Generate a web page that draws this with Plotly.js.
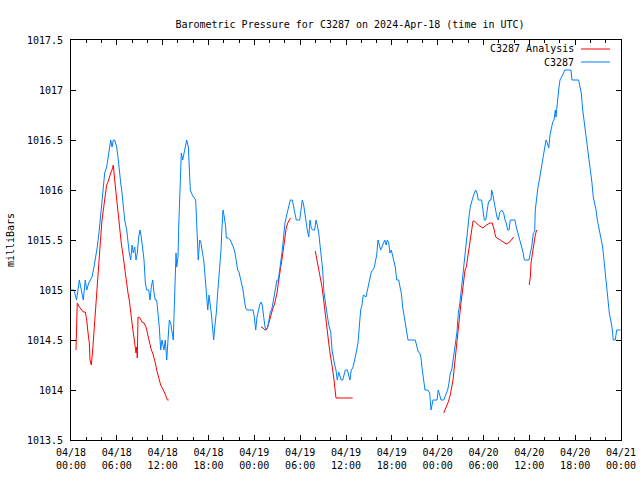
<!DOCTYPE html>
<html>
<head>
<meta charset="utf-8">
<script src="https://cdn.plot.ly/plotly-3.0.1.min.js"></script>
<style>html,body{margin:0;padding:0;background:#fff;}#chart{width:640px;height:480px;}</style>
</head>
<body>
<div id="chart"></div>
<script>
// Start of the time axis (UTC)
const startTime = '2024-04-18 00:00';
const endTime = '2024-04-21 00:00';

// C3287 observed pressure: hours since start, millibars
const stationHours = [0,0.39,0.72,1.09,1.27,1.61,1.87,2.06,2.32,2.49,2.75,3.01,3.27,3.44,3.70,3.89,4.06,4.23,4.41,4.67,4.84,5.01,5.20,5.37,5.54,5.72,5.98,6.15,6.32,6.51,6.68,6.85,7.03,7.29,7.46,7.63,7.82,7.99,8.16,8.34,8.51,8.68,8.86,9.03,9.20,9.39,9.56,9.73,9.91,10.17,10.34,10.51,10.70,10.87,11.04,11.22,11.39,11.56,11.74,11.91,12.17,12.34,12.53,12.70,12.87,13.05,13.22,13.39,13.48,13.65,13.75,13.84,14.01,14.10,14.27,14.44,14.62,14.79,14.96,15.15,15.36,15.45,15.54,15.62,15.88,16.14,16.32,16.49,16.59,16.66,16.85,17.02,17.19,17.37,17.54,17.71,17.80,17.90,18.07,18.24,18.42,18.59,18.68,18.85,19.02,19.20,19.37,19.47,19.64,19.73,19.90,20.07,20.25,20.33,20.59,20.85,21.04,21.30,21.47,21.64,21.82,21.99,22.16,22.35,22.52,22.69,22.87,23.04,23.83,24.00,24.18,24.35,24.52,24.70,24.87,25.04,25.23,25.40,25.57,25.75,25.92,26.09,26.27,26.44,26.61,26.80,26.97,27.14,27.32,27.49,27.66,27.84,28.01,28.18,28.37,28.54,28.71,28.97,29.15,29.32,29.49,29.94,30.11,30.28,30.46,30.59,30.76,30.93,31.12,31.29,31.46,31.64,31.90,32.07,32.24,32.43,32.60,32.77,32.95,33.12,33.29,33.47,33.64,33.81,34.00,34.17,34.34,34.52,34.69,34.86,35.04,35.21,35.38,35.57,35.74,35.91,36.17,36.35,36.52,36.69,36.88,37.05,37.22,37.40,37.57,37.74,37.92,38.09,38.26,38.62,38.79,38.97,39.14,39.31,39.50,39.67,39.84,40.02,40.19,40.36,40.54,40.71,40.88,41.07,41.24,41.41,41.59,41.76,41.93,42.11,42.28,42.45,42.64,42.90,43.07,43.24,43.42,43.59,43.76,43.95,44.12,45.07,45.29,45.46,45.65,45.82,45.99,46.17,46.34,46.70,46.96,47.13,47.22,47.39,47.91,48.08,48.27,48.44,48.79,48.96,49.13,49.31,49.48,49.65,49.84,50.01,50.18,50.36,50.53,50.70,50.88,51.05,51.22,51.41,51.58,51.75,51.93,52.10,52.27,52.46,52.63,52.80,52.98,53.15,53.32,53.76,53.93,54.10,54.29,54.46,54.63,54.81,54.98,55.07,55.24,55.41,55.59,55.76,55.94,56.12,56.38,56.64,56.81,56.98,57.17,57.34,57.51,58.12,58.29,58.48,58.65,58.82,59.00,59.17,59.34,59.96,60.13,60.31,60.52,60.70,60.78,60.87,60.96,61.13,61.31,61.49,61.66,61.83,62.01,62.18,62.35,62.54,62.71,62.88,63.06,63.23,63.40,63.49,63.66,63.84,64.01,64.18,64.37,64.63,65.45,65.58,66.46,66.63,66.80,66.99,67.16,67.33,67.51,67.68,67.85,68.03,68.20,68.37,68.56,68.73,68.90,69.08,69.25,69.42,69.60,69.77,69.94,70.13,70.30,70.47,70.65,70.82,70.99,71.25,71.43,71.93];
const stationPressure = [1015.0,1015.0,1014.9,1015.1,1015.03,1014.9,1015.1,1015.0,1015.07,1015.1,1015.13,1015.23,1015.33,1015.43,1015.6,1015.77,1015.9,1016.07,1016.17,1016.23,1016.33,1016.38,1016.5,1016.43,1016.5,1016.5,1016.43,1016.33,1016.17,1016.07,1015.97,1015.83,1015.7,1015.6,1015.47,1015.37,1015.3,1015.45,1015.37,1015.43,1015.3,1015.37,1015.53,1015.6,1015.53,1015.43,1015.3,1015.07,1015.0,1015.0,1014.9,1015.03,1015.1,1014.97,1014.9,1014.9,1014.77,1014.63,1014.4,1014.5,1014.4,1014.5,1014.3,1014.53,1014.7,1014.67,1014.57,1014.5,1014.73,1015.17,1015.37,1015.23,1015.33,1015.63,1015.93,1016.37,1016.3,1016.37,1016.43,1016.5,1016.43,1016.32,1016.12,1016.0,1015.95,1015.92,1015.9,1015.6,1015.43,1015.3,1015.5,1015.47,1015.38,1015.3,1015.15,1015.02,1014.88,1014.8,1014.95,1014.85,1014.73,1014.57,1014.5,1014.65,1014.77,1014.97,1015.13,1015.23,1015.4,1015.57,1015.8,1015.73,1015.63,1015.52,1015.52,1015.5,1015.47,1015.42,1015.37,1015.27,1015.2,1015.18,1015.13,1015.07,1015.0,1014.9,1014.82,1014.8,1014.8,1014.73,1014.6,1014.73,1014.8,1014.85,1014.88,1014.85,1014.73,1014.63,1014.6,1014.63,1014.7,1014.78,1014.8,1014.87,1014.97,1015.03,1015.1,1015.1,1015.23,1015.3,1015.4,1015.57,1015.67,1015.73,1015.8,1015.83,1015.9,1015.9,1015.83,1015.77,1015.7,1015.7,1015.8,1015.9,1015.85,1015.77,1015.67,1015.6,1015.53,1015.7,1015.62,1015.6,1015.6,1015.7,1015.65,1015.57,1015.45,1015.35,1015.2,1014.97,1014.87,1014.77,1014.7,1014.63,1014.58,1014.4,1014.3,1014.25,1014.2,1014.1,1014.18,1014.13,1014.1,1014.1,1014.15,1014.2,1014.2,1014.15,1014.1,1014.2,1014.22,1014.27,1014.32,1014.4,1014.47,1014.65,1014.8,1014.85,1014.95,1014.93,1015.0,1015.07,1015.13,1015.18,1015.2,1015.22,1015.28,1015.35,1015.5,1015.45,1015.4,1015.43,1015.47,1015.5,1015.45,1015.5,1015.47,1015.37,1015.4,1015.33,1015.3,1015.23,1015.1,1015.1,1015.03,1014.97,1014.83,1014.75,1014.67,1014.58,1014.5,1014.5,1014.43,1014.38,1014.37,1014.32,1014.2,1014.07,1014.0,1014.0,1013.97,1013.8,1013.85,1013.9,1013.9,1014.0,1013.95,1013.9,1013.9,1013.93,1013.97,1014.0,1014.07,1014.17,1014.2,1014.3,1014.43,1014.5,1014.58,1014.77,1014.85,1014.97,1015.1,1015.23,1015.33,1015.48,1015.6,1015.73,1015.83,1015.9,1015.93,1015.97,1016.0,1015.97,1015.9,1015.9,1015.8,1015.7,1015.7,1015.8,1015.87,1015.9,1015.9,1016.0,1015.95,1015.87,1015.8,1015.73,1015.7,1015.77,1015.8,1015.77,1015.7,1015.67,1015.6,1015.6,1015.7,1015.7,1015.63,1015.58,1015.53,1015.48,1015.43,1015.38,1015.3,1015.3,1015.37,1015.43,1015.57,1015.58,1015.8,1015.87,1015.97,1016.03,1016.1,1016.18,1016.27,1016.37,1016.43,1016.5,1016.47,1016.42,1016.55,1016.63,1016.68,1016.7,1016.8,1016.73,1016.9,1017.0,1017.1,1017.12,1017.15,1017.2,1017.2,1017.1,1017.1,1017.03,1016.97,1016.8,1016.7,1016.6,1016.5,1016.4,1016.3,1016.2,1016.07,1015.93,1015.87,1015.8,1015.7,1015.63,1015.57,1015.5,1015.43,1015.3,1015.17,1015.03,1014.93,1014.77,1014.7,1014.63,1014.5,1014.5,1014.6,1014.6];

// C3287 Analysis: hours since start, millibars (null = gap)
const analysisHours = [0.65,0.75,0.82,1.09,1.35,1.61,1.87,2.06,2.23,2.40,2.49,2.66,2.84,3.01,3.18,3.36,3.53,3.70,3.89,4.06,4.23,4.41,4.49,4.67,4.84,5.01,5.20,5.37,5.54,5.72,5.89,6.06,6.24,6.41,6.58,6.77,6.94,7.11,7.29,7.46,7.63,7.82,7.99,8.16,8.34,8.51,8.60,8.68,8.77,9.03,9.29,9.56,9.82,9.99,10.17,10.34,10.51,10.70,10.87,11.04,11.22,11.39,11.56,11.74,11.91,12.08,12.27,12.44,12.61,12.79,
  18.5,
  24.87,25.13,25.40,25.57,25.75,25.92,26.09,26.27,26.44,26.61,26.80,26.97,27.14,27.32,27.49,27.66,27.84,28.01,28.18,28.37,28.54,28.73,
  30.3,
  31.98,32.16,32.33,32.50,32.69,32.86,33.03,33.21,33.38,33.55,33.74,33.91,34.08,34.26,34.43,34.60,34.69,36.88,
  42.0,
  48.79,49.13,49.39,49.65,49.84,50.01,50.18,50.36,50.53,50.70,50.88,51.05,51.22,51.41,51.58,51.75,51.93,52.10,52.27,52.46,52.63,52.80,53.32,53.93,54.36,54.89,55.15,55.41,55.59,56.20,56.98,57.43,57.95,
  59.0,
  59.99,60.13,60.22,60.39,60.57,60.78,60.96];
const analysisPressure = [1014.4,1014.63,1014.87,1014.83,1014.8,1014.78,1014.78,1014.7,1014.57,1014.47,1014.3,1014.25,1014.4,1014.6,1014.73,1014.93,1015.13,1015.33,1015.53,1015.7,1015.8,1015.87,1015.9,1016.05,1016.08,1016.13,1016.17,1016.2,1016.25,1016.1,1015.97,1015.83,1015.73,1015.6,1015.47,1015.37,1015.27,1015.17,1015.03,1014.97,1014.9,1014.8,1014.67,1014.57,1014.47,1014.37,1014.43,1014.32,1014.73,1014.72,1014.68,1014.67,1014.63,1014.57,1014.5,1014.43,1014.4,1014.37,1014.33,1014.27,1014.2,1014.13,1014.1,1014.05,1014.03,1014.0,1013.97,1013.93,1013.9,1013.9,
  null,
  1014.63,1014.62,1014.6,1014.6,1014.63,1014.68,1014.73,1014.78,1014.82,1014.85,1014.9,1014.97,1015.07,1015.15,1015.23,1015.33,1015.43,1015.53,1015.62,1015.67,1015.7,1015.72,
  null,
  1015.39,1015.32,1015.23,1015.17,1015.1,1015.03,1014.93,1014.8,1014.7,1014.57,1014.47,1014.37,1014.3,1014.2,1014.1,1014.0,1013.92,1013.92,
  null,
  1013.77,1013.83,1013.88,1013.95,1014.03,1014.1,1014.23,1014.37,1014.53,1014.63,1014.77,1014.87,1014.97,1015.1,1015.2,1015.23,1015.33,1015.43,1015.5,1015.6,1015.69,1015.69,1015.65,1015.62,1015.65,1015.67,1015.67,1015.6,1015.53,1015.5,1015.46,1015.48,1015.53,
  null,
  1015.05,1015.13,1015.27,1015.37,1015.43,1015.55,1015.6];

const seriesNames = ['C3287 Analysis', 'C3287'];
const seriesColors = ['#ff0000', '#0080ff'];

const baseMs = Date.UTC(2024, 3, 18, 0, 0, 0);
function toDate(h) {
  return new Date(baseMs + h * 3600e3).toISOString().slice(0, 19).replace('T', ' ');
}

const traces = [
  {x: analysisHours.map(toDate), y: analysisPressure, name: seriesNames[0], type: 'scatter', mode: 'lines',
   connectgaps: false, line: {color: seriesColors[0], width: 1}},
  {x: stationHours.map(toDate), y: stationPressure, name: seriesNames[1], type: 'scatter', mode: 'lines',
   line: {color: seriesColors[1], width: 1}}
];

const FONT = 'DejaVu Sans Mono, Liberation Mono, monospace';
const FS = 10;

// legend drawn gnuplot-style: right-aligned text followed by a line sample
const legendAnn = seriesNames.map((n, i) => ({
  text: n, xref: 'paper', yref: 'paper', x: (576 - 71) / 550, y: (440 - (49 + 13 * i)) / 400,
  xanchor: 'right', yanchor: 'middle', showarrow: false, font: {family: FONT, size: FS, color: '#000'}
}));
const legendShapes = seriesColors.map((c, i) => ({
  type: 'line', xref: 'paper', yref: 'paper',
  x0: (581 - 71) / 550, x1: (610 - 71) / 550,
  y0: (440 - (49 + 13 * i)) / 400, y1: (440 - (49 + 13 * i)) / 400,
  line: {color: c, width: 1}
}));

const layout = {
  width: 640, height: 480,
  margin: {l: 71, r: 19, t: 40, b: 40, pad: 0},
  paper_bgcolor: '#ffffff', plot_bgcolor: '#ffffff',
  font: {family: FONT, size: FS, color: '#000'},
  showlegend: false,
  title: {text: 'Barometric Pressure for C3287 on 2024-Apr-18 (time in UTC)',
    x: (350 - 71) / 550, xanchor: 'center', xref: 'paper', y: 1 - 24 / 480, yanchor: 'middle',
    font: {family: FONT, size: FS, color: '#000'}},
  xaxis: {
    type: 'date', range: [startTime, endTime], tick0: startTime, dtick: 6 * 3600e3,
    tickformat: '%m/%d<br>%H:%M', ticks: 'inside', ticklen: 5, tickcolor: '#000', tickwidth: 1,
    showline: true, linecolor: '#000', linewidth: 1, mirror: 'allticks',
    showgrid: false, zeroline: false, ticklabelstandoff: 3,
    minor: {dtick: 2 * 3600e3, tick0: startTime, ticks: 'inside', ticklen: 3, tickcolor: '#000', showgrid: false},
    tickfont: {family: FONT, size: FS, color: '#000'}
  },
  yaxis: {
    range: [1013.5, 1017.5], tick0: 1013.5, dtick: 0.5, tickformat: '~g',
    ticks: 'inside', ticklen: 5, tickcolor: '#000', tickwidth: 1,
    showline: true, linecolor: '#000', linewidth: 1, mirror: 'allticks',
    showgrid: false, zeroline: false, ticklabelstandoff: 5,
    tickfont: {family: FONT, size: FS, color: '#000'},
    title: {text: 'milliBars', standoff: 10, font: {family: FONT, size: FS, color: '#000'}}
  },
  annotations: legendAnn,
  shapes: legendShapes
};

Plotly.newPlot('chart', traces, layout, {staticPlot: true, displayModeBar: false});
</script>
</body>
</html>
